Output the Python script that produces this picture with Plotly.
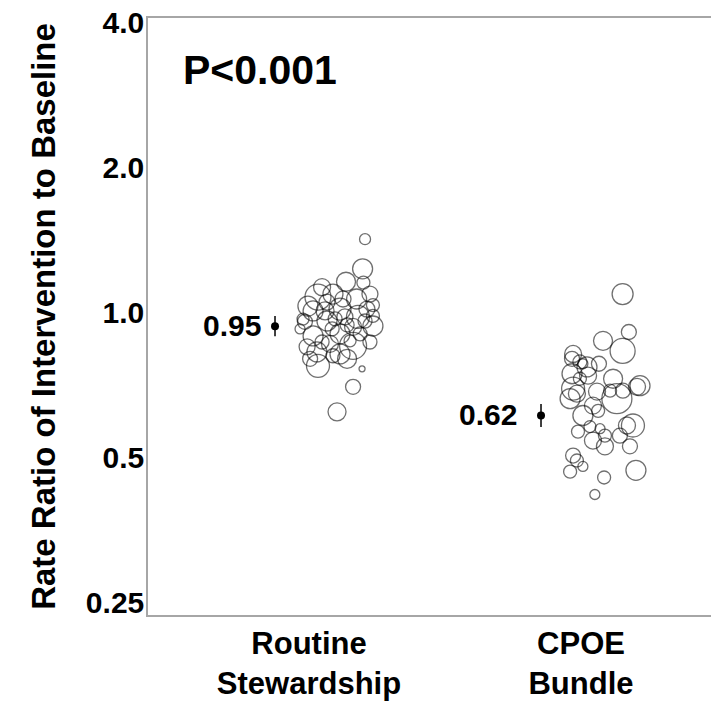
import numpy as np
import plotly.graph_objects as go

# ---------------- data ----------------
categories = ["Routine<br>Stewardship", "CPOE<br>Bundle"]
category_pos = [1, 2]
y_tickvals = [0.25, 0.5, 1.0, 2.0, 4.0]
y_ticktext = ["0.25", "0.5", "1.0", "2.0", "4.0"]

# Routine Stewardship: per-site rate ratios, horizontal jitter, bubble size
routine_rr = [1.44, 1.25, 1.175, 1.17, 1.092, 1.108, 1.082, 1.051, 1.022, 1.031,
              0.970, 0.974, 0.993, 0.951, 0.947, 0.907, 0.916, 0.916, 0.873, 0.865,
              0.840, 0.832, 0.786, 0.775, 0.711, 0.631, 0.983, 1.145, 1.108, 0.938,
              0.956, 1.066, 1.082, 1.046, 0.938, 1.031, 0.861, 0.881, 0.813, 0.825,
              0.881, 0.813, 0.998, 0.993, 0.974, 1.022, 0.886, 0.984]
routine_x = [1.206, 1.197, 1.136, 1.200, 1.033, 1.088, 1.175, 1.235, 1.015, 1.114,
             0.985, 1.066, 1.180, 1.235, 1.162, 1.015, 1.114, 1.188, 1.077, 1.162,
             1.029, 1.114, 1.033, 1.195, 1.162, 1.103, 0.978, 1.048, 1.224, 0.967,
             1.140, 1.066, 1.125, 0.996, 1.085, 1.213, 0.993, 1.048, 1.140, 1.088,
             1.224, 1.004, 1.235, 1.132, 1.206, 1.059, 1.151, 1.096]
routine_size = [11, 20, 19, 13, 26, 20, 20, 13, 20, 22,
                15, 20, 23, 20, 17, 20, 20, 14, 17, 27,
                20, 20, 23, 6, 15, 18, 12, 17, 16, 10,
                14, 16, 16, 20, 14, 16, 16, 14, 19, 14,
                14, 15, 13, 16, 14, 18, 12, 14]

# CPOE Bundle
cpoe_rr = [1.108, 0.924, 0.886, 0.844, 0.832, 0.813, 0.794, 0.782, 0.801, 0.757,
           0.750, 0.739, 0.715, 0.711, 0.698, 0.705, 0.688, 0.695, 0.672, 0.672,
           0.650, 0.620, 0.634, 0.591, 0.591, 0.582, 0.574, 0.563, 0.550, 0.563,
           0.535, 0.535, 0.512, 0.500, 0.486, 0.474, 0.477, 0.461, 0.425, 0.794,
           0.698, 0.739, 0.588]
cpoe_x = [2.153, 2.176, 2.081, 2.153, 1.971, 1.967, 2.066, 2.022, 1.996, 1.967,
          2.026, 2.118, 2.217, 2.206, 2.154, 1.971, 1.985, 2.059, 2.132, 1.960,
          2.044, 2.007, 2.063, 2.191, 2.169, 2.070, 1.989, 2.088, 2.044, 2.143,
          2.088, 2.180, 1.971, 1.985, 2.007, 1.960, 2.202, 2.085, 2.051, 2.007,
          2.107, 1.996, 2.033]
cpoe_size = [21, 15, 19, 25, 17, 15, 15, 20, 14, 20,
             17, 19, 20, 17, 15, 23, 17, 17, 30, 20,
             17, 20, 13, 23, 17, 10, 13, 13, 17, 15,
             17, 15, 15, 13, 10, 13, 20, 13, 10, 10,
             13, 13, 12]

# pooled estimates with 95% CI
pooled_labels = ["0.95", "0.62"]
pooled_rr = [0.95, 0.62]
pooled_lo = [0.905, 0.587]
pooled_hi = [0.997, 0.655]
pooled_x = [0.875, 1.853]

p_text = "P<0.001"
y_title = "Rate Ratio of Intervention to Baseline"

# ---------------- figure ----------------
FONT = "Liberation Sans, Arial, sans-serif"
fig = go.Figure()

bubble_style = dict(color="rgba(0,0,0,0)", sizemode="diameter",
                    line=dict(color="rgba(0,0,0,0.8)", width=1.3))

fig.add_trace(go.Scatter(x=routine_x, y=routine_rr, mode="markers",
                         marker=dict(size=routine_size, **bubble_style),
                         showlegend=False, hoverinfo="y"))
fig.add_trace(go.Scatter(x=cpoe_x, y=cpoe_rr, mode="markers",
                         marker=dict(size=cpoe_size, **bubble_style),
                         showlegend=False, hoverinfo="y"))

fig.add_trace(go.Scatter(
    x=pooled_x, y=pooled_rr, mode="markers",
    marker=dict(size=8, color="black"),
    error_y=dict(type="data", symmetric=False,
                 array=[h - m for h, m in zip(pooled_hi, pooled_rr)],
                 arrayminus=[m - l for m, l in zip(pooled_rr, pooled_lo)],
                 color="black", thickness=1.5, width=0),
    showlegend=False))

label_shift = [-12, -22]
for lab, xv, yv, sh in zip(pooled_labels, pooled_x, pooled_rr, label_shift):
    fig.add_annotation(x=xv, y=np.log10(yv), xref="x", yref="y", text=lab,
                       showarrow=False, xanchor="right", yanchor="middle",
                       xshift=sh, yshift=1,
                       font=dict(family=FONT, size=30, color="black", weight="bold"))

fig.add_annotation(x=0.199, y=0.913, xref="paper", yref="paper", text=p_text,
                   showarrow=False, xanchor="center", yanchor="middle",
                   font=dict(family=FONT, size=41, color="black", weight="bold"))

fig.update_layout(
    width=711, height=701,
    margin=dict(l=148, r=0, t=18, b=84),
    paper_bgcolor="white", plot_bgcolor="white",
    font=dict(family=FONT, color="black"),
)

fig.update_xaxes(
    range=[0.408, 2.478], tickvals=category_pos, ticktext=categories,
    showgrid=False, zeroline=False, ticks="",
    showline=True, linecolor="#a6a6a6", linewidth=1.5, mirror=True,
    tickfont=dict(family=FONT, size=31, color="black", weight="bold"),
)
fig.update_yaxes(
    type="log", range=[-0.6218, 0.6176],
    tickvals=y_tickvals, ticktext=y_ticktext,
    showgrid=False, zeroline=False, ticks="",
    showline=True, linecolor="#a6a6a6", linewidth=1.5,
    tickfont=dict(family=FONT, size=30, color="black", weight="bold"),
    ticklabelshift=-3, ticklabelstandoff=-4,
    title=dict(text=y_title, standoff=20,
               font=dict(family=FONT, size=33, color="black", weight="bold")),
)

fig.write_html("out.html")
